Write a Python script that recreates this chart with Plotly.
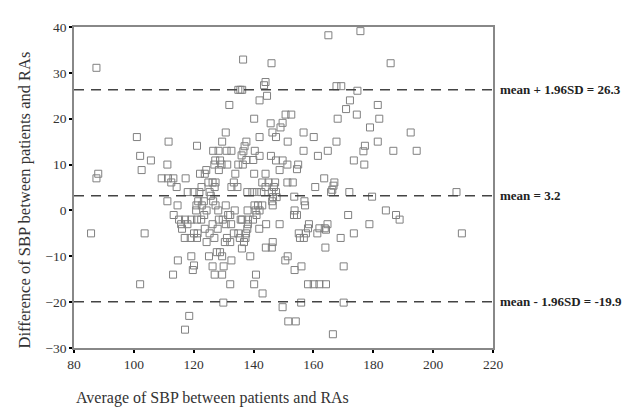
import plotly.graph_objects as go

avg_sbp = [165, 175.7, 136.5, 146, 185.8, 87.5, 144, 143.5, 167.7, 169.3,
           134.9, 135.6, 136.2, 174.7, 144.5, 131.9, 142, 172.2, 170.9, 181.5,
           140.2, 168.1, 182, 150.7, 152.6, 174.5, 145.7, 149.7, 149, 178.9,
           101, 111.6, 130.7, 156.7, 160.1, 142, 146.3, 147.5, 192.5, 129.5,
           137.6, 151.4, 167.7, 181.5, 177.2, 176.7, 121.1, 137, 136.6, 126.5,
           128.3, 131, 132.6, 140.4, 156.7, 164.8, 186.7, 194.5, 136, 142,
           145.8, 161.5, 102.1, 105.7, 137.6, 139.9, 127.2, 128.8, 147.5, 149.7,
           173.5, 111.2, 177, 126.9, 129.3, 131.2, 134.9, 136.4, 151.3, 154.9,
           154.5, 148.7, 128.4, 102.6, 124.2, 88.1, 87.5, 122.1, 123.7, 133.9,
           140.2, 144, 109.3, 111.4, 113.2, 117.3, 163.6, 112.5, 114.3, 124.9,
           126.3, 127.3, 133.4, 142.9, 145, 147.2, 151.3, 153.1, 167, 166.7,
           122.6, 127, 132.6, 134.6, 144, 146.8, 160.6, 166.3, 165.9, 118,
           120, 121.9, 125.3, 137.9, 139.6, 141.1, 142.6, 146.1, 147.5, 172,
           207.8, 125.7, 146.5, 147.7, 157, 157.2, 153.6, 179.6, 111.2, 121.5,
           123.4, 126.5, 120.9, 122.7, 127.3, 130.7, 114.6, 140.3, 141.5, 142.9,
           146.4, 146.2, 120.8, 124.3, 128.2, 133.7, 138, 140.7, 142, 153.7,
           184.2, 123.5, 131.5, 132.2, 113.3, 135.7, 141, 154.5, 153.5, 171.6,
           187.6, 188.8, 115.1, 117.1, 119.2, 121.1, 122.5, 129.7, 128.4, 136.2,
           138.1, 139.8, 115.8, 117.9, 126.3, 130.7, 132.5, 138.1, 144.2, 148.7,
           158.5, 164.7, 178.7, 116.1, 123.7, 128, 137.9, 141.9, 158.2, 162,
           163.8, 103.6, 85.7, 120.1, 121.3, 125.3, 133.4, 134.9, 137.5, 155.1,
           157.5, 161.3, 164.2, 173.5, 209.6, 117, 119, 121.1, 126.9, 131.1,
           135.4, 137.3, 155.5, 156.8, 169.1, 124.3, 130.4, 132.2, 136.8, 146.4,
           136.1, 144.1, 146.1, 164, 127.7, 128.8, 151.4, 150.6, 119.2, 125.1,
           129.5, 138.9, 132.6, 114.7, 120.1, 119.7, 126.3, 130, 156, 170.1,
           153.7, 113.1, 127, 129.5, 140.8, 102.1, 132.2, 140.2, 158.2, 160.1,
           162, 164.2, 143, 129.9, 155.9, 170.1, 149.7, 118.5, 151.6, 154.1,
           117.1, 166.5]

diff_sbp = [38.2, 39.1, 32.9, 32.1, 32.1, 31.1, 28, 27.3, 27.1, 27.1,
            26.3, 26.3, 26.3, 26.1, 25, 23, 24, 24, 22.1, 23,
            20, 20, 20, 20.9, 20.9, 20.9, 19, 19.1, 18.1, 18.1,
            16, 15, 17, 17, 16, 16, 17, 16, 17, 15,
            15, 15, 15, 15, 14.1, 12.9, 14.1, 14, 12.9, 13,
            13, 13, 13, 13, 13, 13, 13, 13, 12, 11.9,
            11.9, 11.9, 11.9, 10.9, 11, 11, 10.9, 10.9, 10.9, 10.9,
            10.9, 10, 10, 10, 10, 10, 10, 10, 10, 10,
            9, 8.8, 8.8, 8.8, 8.8, 8, 7, 8, 8, 8,
            8, 8, 7, 7, 7, 7, 7, 6.1, 5.1, 6.1,
            6.1, 6.1, 6.1, 6.1, 6.1, 6.1, 6.1, 6.1, 6.1, 5.4,
            5.1, 5.1, 5.1, 5.1, 5.1, 5.1, 5.1, 4.5, 4, 4,
            4, 4, 4, 4, 4, 4, 4, 4, 4, 4,
            4, 3.2, 2.9, 2.9, 2, 1.1, 3, 3, 2, 2,
            2, 2, 1.1, 1.1, 1.1, 1.1, 1.1, 1.1, 1.1, 1.1,
            1.1, 2, 0, 0, 0, 0, 0, 0, 0, 0,
            0, -1, -1, -1, -1, -2, -1, -1, -1, -1,
            -1, -2, -2, -2, -2, -2, -2, -2, -2, -2,
            -2, -2, -3, -3, -3, -3, -3, -3, -3, -3,
            -3, -3, -3, -4, -4, -4, -4, -4, -3.9, -3.9,
            -3.9, -5, -5, -5, -5, -5, -5, -5, -5, -5,
            -5, -5, -4.2, -5, -5, -6, -6, -6, -6, -6,
            -6, -6, -6, -6, -6, -6.9, -6.9, -6.9, -6.9, -6.9,
            -8.3, -8.1, -8.1, -8.1, -9.1, -9.1, -10, -10.9, -10, -10,
            -10, -10, -10.9, -10.9, -12, -13, -12.2, -12.2, -12.2, -12.2,
            -13, -14, -14, -14, -14, -16.1, -16.1, -16.1, -16.1, -16.1,
            -16.1, -16.1, -18.1, -20.1, -20.1, -20.1, -21.1, -23, -24.2, -24.2,
            -26, -27]

ref_values = [26.3, 3.2, -19.9]
ref_labels = ["mean + 1.96SD = 26.3", "mean = 3.2", "mean - 1.96SD = -19.9"]

x_ticks = [80, 100, 120, 140, 160, 180, 200, 220]
y_ticks = [-30, -20, -10, 0, 10, 20, 30, 40]

serif = "Liberation Serif, Times New Roman, serif"

fig = go.Figure()
fig.add_trace(go.Scatter(
    x=avg_sbp, y=diff_sbp, mode="markers",
    marker=dict(symbol="square-open", size=7, color="#808080",
                line=dict(width=1, color="#808080")),
    showlegend=False, hoverinfo="x+y"))

for v, lab in zip(ref_values, ref_labels):
    fig.add_hline(y=v, line=dict(color="#444444", width=1.5, dash="10px,7px"))
    fig.add_annotation(x=1.013, xref="paper", y=v, yref="y", text="<b>" + lab + "</b>",
                       showarrow=False, xanchor="left", yanchor="middle",
                       font=dict(family=serif, size=13, color="#222222"))

fig.add_annotation(x=0.0, xref="paper", y=-0.155, yref="paper",
                   text="Average of SBP between patients and RAs", showarrow=False,
                   xanchor="left", yanchor="middle",
                   font=dict(family=serif, size=16, color="#333333"))

fig.add_annotation(x=-0.119, xref="paper", y=0.46, yref="paper",
                   text="Difference of SBP between patients and RAs", showarrow=False,
                   xanchor="center", yanchor="middle", textangle=-90,
                   font=dict(family=serif, size=16.5, color="#333333"))

fig.update_xaxes(range=[80, 220], tickvals=x_ticks, showline=True, mirror=True,
                 linecolor="#888888", linewidth=1.5, ticks="outside", ticklen=3,
                 tickcolor="#000000", tickwidth=2, showgrid=False, zeroline=False,
                 tickfont=dict(family=serif, size=13.5, color="#333333"))
fig.update_yaxes(range=[-30, 40], tickvals=y_ticks, showline=True, mirror=True,
                 linecolor="#888888", linewidth=1.5, ticks="outside", ticklen=3,
                 tickcolor="#000000", tickwidth=2, showgrid=False, zeroline=False,
                 tickfont=dict(family=serif, size=13.5, color="#333333"))

fig.update_layout(width=635, height=407, margin=dict(l=66, r=150, t=15, b=67),
                  plot_bgcolor="white", paper_bgcolor="white",
                  font=dict(family=serif))

fig.write_html("out.html")
